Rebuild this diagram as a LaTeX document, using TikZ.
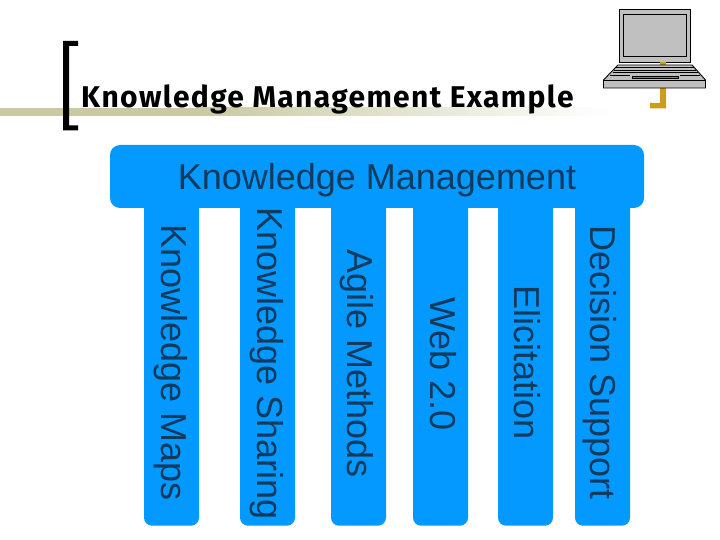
\documentclass[tikz,border=0pt]{standalone}
\usepackage{fontspec}
\setmainfont{Liberation Sans}
\newfontfamily\titlefont[LetterSpace=4.5]{Fira Sans}
\usetikzlibrary{shadings}
\definecolor{kmblue}{HTML}{0499FF}
\definecolor{kmtext}{HTML}{103A5E}
\definecolor{strip}{HTML}{C9C9A3}
\definecolor{gold}{HTML}{CC9C1C}
\definecolor{lapgray}{HTML}{C0C0C0}
\tikzset{
  pillar/.style={fill=kmblue,draw=none,rounded corners=8pt},
  pillartext/.style={rotate=-90,text=kmtext,font=\fontsize{36}{36}\selectfont,inner sep=0pt,anchor=base},
  lap/.style={fill=lapgray,draw=black,line width=0.9pt,line join=miter},
  lapline/.style={draw=black,line width=0.9pt},
}
\newcommand{\pillarat}[2]{\fill[pillar] (#1,195) -- (#1,525.7) -- (#2,525.7) -- (#2,195) -- cycle;}
\begin{document}
\begin{tikzpicture}[x=1pt,y=-1pt]
\useasboundingbox (0,0) rectangle (720,540);
% title strip
\fill[strip] (0,108) rectangle (200,116);
\shade[left color=strip,right color=white] (200,108) rectangle (610,116);
% bracket
\fill[black] (63,41) -- (78,41) -- (78,46) -- (69,46) -- (69,125.5) -- (78,125.5) -- (78,130.5) -- (63,130.5) -- cycle;
% gold mark
\fill[gold] (660,60) -- (666,60) -- (666,108.5) -- (650,108.5) -- (650,103) -- (660,103) -- cycle;
% laptop
\draw[lap] (619.5,9.5) rectangle (690.5,62);
\draw[lap] (623.5,14) rectangle (686.5,56);
\fill[gold] (660,62.4) rectangle (666,64.5);
\draw[lap] (618,65) -- (692,65) -- (705.5,80) -- (705.5,88) -- (603.5,88) -- (603.5,80) -- cycle;
\draw[lapline] (603.5,80) -- (705.5,80);
\draw[lapline] (616,67.5) -- (694,67.5);
\draw[lapline] (614,70) -- (696,70);
\draw[lapline] (612.5,72.5) -- (697.5,72.5);
\draw[lapline] (610,75.5) -- (630,75.5);
\draw[lapline] (680,75.5) -- (700,75.5);
\draw[lap,fill=gray] (632,76) rectangle (678,78.5);
% pillars
\pillarat{144}{199}
\pillarat{240}{295}
\pillarat{331}{386}
\pillarat{413}{468}
\pillarat{498}{553}
\pillarat{575}{630}
\fill[pillar,rounded corners=10pt] (110,145) rectangle (644,208);
% texts
\node[anchor=base west,inner sep=0pt,font=\titlefont\bfseries\fontsize{30}{30}\selectfont,text=black] (title) at (81,107.5) {Knowledge Management Example};
\node[anchor=base,inner sep=0pt,text=kmtext,font=\fontsize{36}{36}\selectfont] (km) at (377,190) {Knowledge Management};
\node[pillartext] (p1) at (161,363) {Knowledge Maps};
\node[pillartext] (p2) at (257,364) {Knowledge Sharing};
\node[pillartext] (p3) at (347,363.5) {Agile Methods};
\node[pillartext] (p4) at (430,364) {Web 2.0};
\node[pillartext] (p5) at (514,363) {Elicitation};
\node[pillartext] (p6) at (590,363) {Decision Support};
\end{tikzpicture}
\end{document}
